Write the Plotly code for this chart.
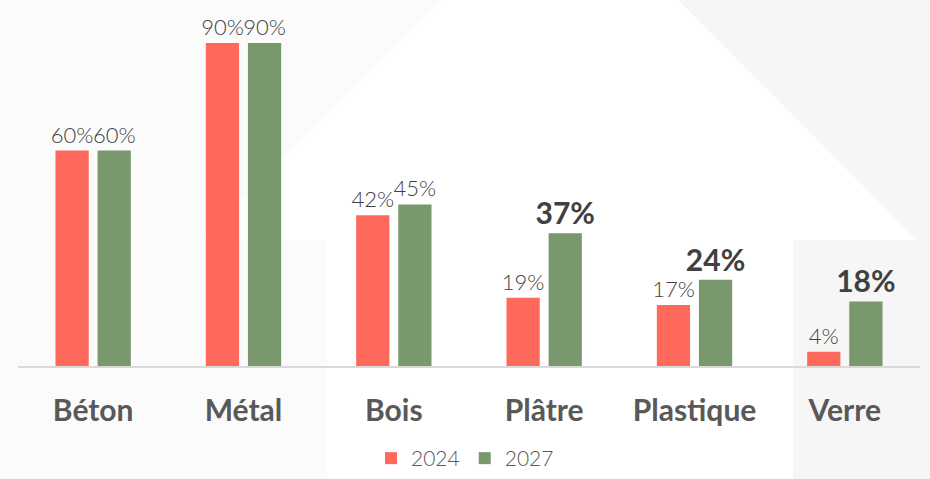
import plotly.graph_objects as go

# ---------------------------------------------------
# DATA
# ---------------------------------------------------

categories = ['Béton', 'Métal', 'Bois', 'Plâtre', 'Plastique', 'Verre']
values_2024 = [60, 90, 42, 19, 17, 4]
values_2027 = [60, 90, 45, 37, 24, 18]
highlight_2027 = [False, False, False, True, True, True]

W, H = 930, 479
RED = '#FF695B'
GREEN = '#7A986E'


def px(x):
    return x / W


def py(y):
    return 1 - y / H


def path(points):
    return 'M ' + ' L '.join(f'{px(x):.4f},{py(y):.4f}' for x, y in points) + ' Z'


# ---------------------------------------------------
# LABELS
# ---------------------------------------------------

text_2024 = [f'{v}%' for v in values_2024]
text_2027 = [f'<b>{v}%</b>' if h else f'{v}%' for v, h in zip(values_2027, highlight_2027)]
size_2027 = [30 if h else 22 for h in highlight_2027]

fig = go.Figure()

fig.add_trace(go.Bar(
    x=categories,
    y=values_2024,
    name='2024',
    marker=dict(color=RED, line=dict(width=0)),
    text=text_2024,
    textposition='outside',
    constraintext='none',
    textfont=dict(family='Lato', size=22, color='#404040', weight=300),
    cliponaxis=False
))

fig.add_trace(go.Bar(
    x=categories,
    y=values_2027,
    name='2027',
    marker=dict(color=GREEN, line=dict(width=0)),
    text=text_2027,
    textposition='outside',
    constraintext='none',
    textfont=dict(family='Lato', size=size_2027, color='#404040', weight=300),
    cliponaxis=False
))

# ---------------------------------------------------
# BACKGROUND HOUSE SHAPES
# ---------------------------------------------------

shapes = [
    dict(type='path', xref='paper', yref='paper', layer='below',
         path=path([(0, 0), (443, 0), (203, 240), (327, 240), (327, H), (0, H)]),
         fillcolor='#FBFBFB', line=dict(width=0)),
    dict(type='path', xref='paper', yref='paper', layer='below',
         path=path([(678, 0), (930, 0), (930, H), (793, H), (793, 240), (917, 240)]),
         fillcolor='#F6F6F6', line=dict(width=0)),
]

fig.update_layout(
    width=W,
    height=H,
    margin=dict(l=0, r=0, t=0, b=0),
    paper_bgcolor='white',
    plot_bgcolor='rgba(0,0,0,0)',
    barmode='group',
    bargap=0.44,
    bargroupgap=0.21,
    shapes=shapes,
    showlegend=True,
    # legend kept inside the paper so it does not push the bottom margin
    legend=dict(
        orientation='h',
        x=0.5,
        xanchor='center',
        y=0,
        yanchor='bottom',
        font=dict(family='Lato', size=21, color='#595959', weight=300),
        bgcolor='rgba(0,0,0,0)',
        itemwidth=30
    )
)

fig.update_xaxes(
    domain=[px(18), px(920)],
    showline=True,
    linecolor='#D9D9D9',
    linewidth=2,
    showgrid=False,
    ticks='',
    ticklabelstandoff=17,
    tickfont=dict(family='Lato', size=30, color='#595959', weight='bold'),
    automargin=False
)

fig.update_yaxes(
    domain=[py(366), py(7)],
    range=[0, 100],
    visible=False,
    showgrid=False,
    zeroline=False
)

# pin the chart to the top-left corner of the page
pin = (
    "var gd=document.getElementById('{plot_id}');"
    "gd.style.position='fixed';gd.style.top='0';gd.style.left='0';"
    "document.body.style.margin='0';document.body.style.overflow='hidden';"
)

fig.write_html(
    'out.html',
    config={'displayModeBar': False},
    post_script=pin
)
